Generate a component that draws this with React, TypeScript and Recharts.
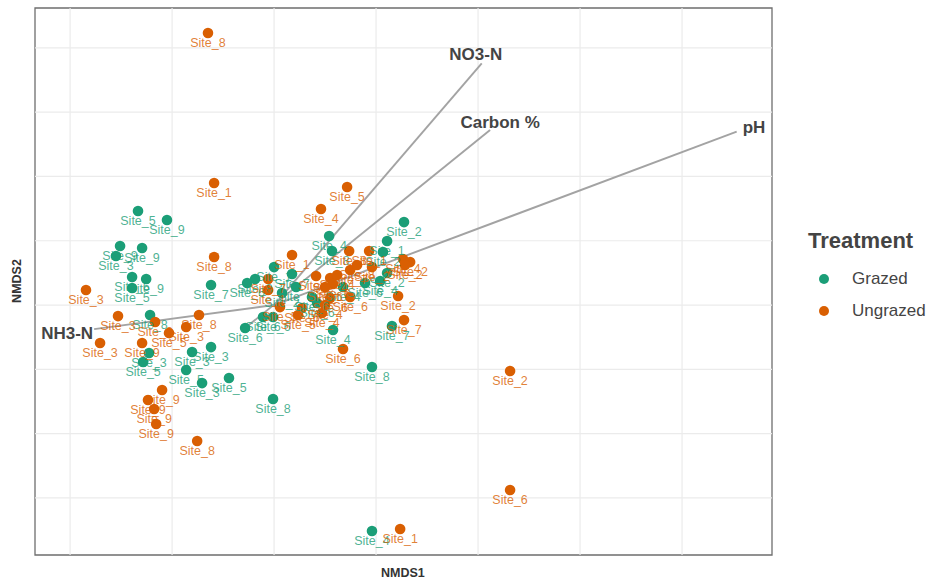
import React from "react";
import {
  ScatterChart,
  Scatter,
  XAxis,
  YAxis,
  ReferenceLine,
  ReferenceArea,
} from "recharts";

// NMDS site scores
const grazedX = [-0.667, -0.525, 0.637, 0.27, -0.755, -0.647, -0.775, 0.554, 0.284, 0.534, 0.0, 0.088, 0.554, 0.52, 0.446, -0.696, -0.627, -0.696, -0.309, -0.132, -0.093, 0.108, 0.338, 0.039, 0.186, 0.211, -0.054, -0.005, -0.142, 0.289, 0.578, 0.48, -0.005, -0.608, -0.613, -0.642, -0.309, -0.402, -0.431, -0.353, -0.221, 0.48];
const grazedY = [0.731, 0.661, 0.645, 0.537, 0.459, 0.443, 0.381, 0.498, 0.42, 0.412, 0.295, 0.241, 0.249, 0.187, 0.171, 0.218, 0.202, 0.132, 0.156, 0.171, 0.202, 0.14, 0.14, 0.093, 0.062, 0.016, -0.093, -0.093, -0.179, -0.194, -0.163, -0.482, -0.731, -0.078, -0.373, -0.443, -0.327, -0.365, -0.505, -0.607, -0.568, -1.757];
const grazedSite = ["Site_5", "Site_9", "Site_2", "Site_4", "Site_9", "Site_9", "Site_3", "Site_1", "Site_8", "Site_2", "Site_1", "Site_7", "Site_2", "Site_4", "Site_6", "Site_6", "Site_9", "Site_5", "Site_7", "Site_6", "Site_8", "Site_7", "Site_4", "Site_2", "Site_6", "Site_6", "Site_6", "Site_6", "Site_6", "Site_4", "Site_7", "Site_8", "Site_8", "Site_8", "Site_3", "Site_5", "Site_3", "Site_3", "Site_5", "Site_3", "Site_5", "Site_4"];

const ungrazedX = [-0.324, -0.294, 0.358, 0.23, -0.294, 0.088, 0.368, 0.466, 0.632, 0.667, 0.642, 0.373, 0.48, -0.029, 0.206, 0.275, 0.309, 0.289, 0.25, -0.029, 0.373, 0.608, 0.275, 0.029, 0.25, 0.137, 0.118, 0.235, 0.637, 0.338, -0.922, -0.765, -0.583, -0.368, -0.431, -0.515, -0.853, -0.647, -0.549, -0.618, -0.588, -0.578, -0.377, 1.157, 1.157, 0.618, 0.407];
const ungrazedY = [2.115, 0.949, 0.918, 0.747, 0.373, 0.389, 0.42, 0.42, 0.358, 0.334, 0.311, 0.272, 0.295, 0.202, 0.226, 0.21, 0.233, 0.163, 0.14, 0.117, 0.062, 0.07, 0.054, -0.016, 0.0, -0.023, -0.078, -0.062, -0.117, -0.342, 0.117, -0.086, -0.132, -0.078, -0.171, -0.218, -0.295, -0.295, -0.661, -0.739, -0.809, -0.925, -1.058, -0.513, -1.439, -1.742, 0.311];
const ungrazedSite = ["Site_8", "Site_1", "Site_5", "Site_4", "Site_8", "Site_1", "Site_8", "Site_1", "Site_4", "Site_2", "Site_2", "Site_7", "Site_2", "Site_7", "Site_5", "Site_4", "Site_4", "Site_6", "Site_6", "Site_1", "Site_6", "Site_2", "Site_6", "Site_5", "Site_4", "Site_6", "Site_5", "Site_4", "Site_7", "Site_6", "Site_3", "Site_3", "Site_3", "Site_8", "Site_3", "Site_5", "Site_3", "Site_9", "Site_9", "Site_9", "Site_9", "Site_9", "Site_8", "Site_2", "Site_6", "Site_1", "Site_8"];

// envfit vectors
const vectorNames = ["NO3-N", "Carbon %", "pH", "NH3-N"];
const vectorStartX = [0, -0.142, 0, 0];
const vectorStartY = [0, -0.179, 0, 0];
const vectorEndX = [1.018, 1.059, 2.268, -0.882];
const vectorEndY = [1.879, 1.361, 1.348, -0.187];

const gridX = [-1, -0.5, 0, 0.5, 1, 1.5, 2];
const gridY = [-1.5, -1, -0.5, 0, 0.5, 1, 1.5, 2];
const xDomain: [number, number] = [-1.172, 2.441];
const yDomain: [number, number] = [-1.944, 2.31];

const GREEN = "#1b9e77";
const ORANGE = "#d95f02";
const FONT = "'Liberation Sans', Arial, Helvetica, sans-serif";

const vectorLabelStyle: Record<string, { anchor: string; dx: number; dy: number }> = {
  "NO3-N": { anchor: "middle", dx: -6, dy: -9 },
  "Carbon %": { anchor: "middle", dx: 10, dy: -8 },
  pH: { anchor: "start", dx: 6, dy: -4 },
  "NH3-N": { anchor: "end", dx: -1, dy: 4 },
};

const toPoints = (xs: number[], ys: number[], sites: string[]) =>
  xs.map((x, i) => ({ x, y: ys[i], site: sites[i] }));

const grazed = toPoints(grazedX, grazedY, grazedSite);
const ungrazed = toPoints(ungrazedX, ungrazedY, ungrazedSite);
const vectorEnds = vectorNames.map((name, i) => ({ x: vectorEndX[i], y: vectorEndY[i], name }));

const dot = (color: string) => (props: any) => (
  <circle cx={props.cx} cy={props.cy} r={5.3} fill={color} />
);

const siteLabel = (color: string) => (props: any) => (
  <text
    x={props.cx}
    y={props.cy + 10}
    textAnchor="middle"
    dominantBaseline="central"
    fontSize={12.5}
    fontFamily={FONT}
    fill={color}
    fillOpacity={0.8}
  >
    {props.payload.site}
  </text>
);

const vectorLabel = (props: any) => {
  const s = vectorLabelStyle[props.payload.name];
  return (
    <text
      x={props.cx + s.dx}
      y={props.cy + s.dy}
      textAnchor={s.anchor as any}
      dominantBaseline="central"
      fontSize={17}
      fontWeight="bold"
      fontFamily={FONT}
      fill="#444444"
    >
      {props.payload.name}
    </text>
  );
};

export default function App() {
  return (
    <div style={{ position: "absolute", left: 0, top: 0, width: 931, height: 582, background: "#fff", fontFamily: FONT }}>
      <ScatterChart width={931} height={582} margin={{ top: 8, right: 159, bottom: 27, left: 35 }}>
        <XAxis type="number" dataKey="x" domain={xDomain} allowDataOverflow hide />
        <YAxis type="number" dataKey="y" domain={yDomain} allowDataOverflow hide />
        {gridX.map((v) => (
          <ReferenceLine key={"gx" + v} x={v} stroke="#ebebeb" strokeWidth={1.2} />
        ))}
        {gridY.map((v) => (
          <ReferenceLine key={"gy" + v} y={v} stroke="#ebebeb" strokeWidth={1.2} />
        ))}
        <Scatter name="Grazed" data={grazed} shape={dot(GREEN)} isAnimationActive={false} />
        <Scatter name="Ungrazed" data={ungrazed} shape={dot(ORANGE)} isAnimationActive={false} />
        {vectorNames.map((name, i) => (
          <ReferenceLine
            key={"v" + name}
            segment={[
              { x: vectorStartX[i], y: vectorStartY[i] },
              { x: vectorEndX[i], y: vectorEndY[i] },
            ]}
            stroke="#a3a3a3"
            strokeWidth={1.9}
          />
        ))}
        <Scatter data={grazed} shape={siteLabel(GREEN)} isAnimationActive={false} />
        <Scatter data={ungrazed} shape={siteLabel(ORANGE)} isAnimationActive={false} />
        <Scatter data={vectorEnds} shape={vectorLabel} isAnimationActive={false} />
        <ReferenceArea
          x1={xDomain[0]}
          x2={xDomain[1]}
          y1={yDomain[0]}
          y2={yDomain[1]}
          fill="none"
          stroke="#6e6e6e"
          strokeWidth={1.3}
        />
      </ScatterChart>

      <div style={{ position: "absolute", left: 381, top: 566, fontSize: 12.5, fontWeight: "bold", color: "#333" }}>
        NMDS1
      </div>
      <div
        style={{
          position: "absolute",
          left: 17,
          top: 281,
          fontSize: 12.5,
          fontWeight: "bold",
          color: "#333",
          transform: "translate(-50%, -50%) rotate(-90deg)",
          whiteSpace: "nowrap",
        }}
      >
        NMDS2
      </div>

      <div style={{ position: "absolute", left: 808, top: 228, color: "#333" }}>
        <div style={{ fontSize: 22, fontWeight: "bold", color: "#444", marginBottom: 9 }}>Treatment</div>
        {[
          { label: "Grazed", color: GREEN },
          { label: "Ungrazed", color: ORANGE },
        ].map((item) => (
          <div key={item.label} style={{ display: "flex", alignItems: "center", height: 32 }}>
            <span
              style={{
                display: "inline-block",
                width: 10,
                height: 10,
                borderRadius: 5,
                background: item.color,
                marginLeft: 11,
                marginRight: 23,
              }}
            />
            <span style={{ fontSize: 17, color: "#444" }}>{item.label}</span>
          </div>
        ))}
      </div>
    </div>
  );
}
